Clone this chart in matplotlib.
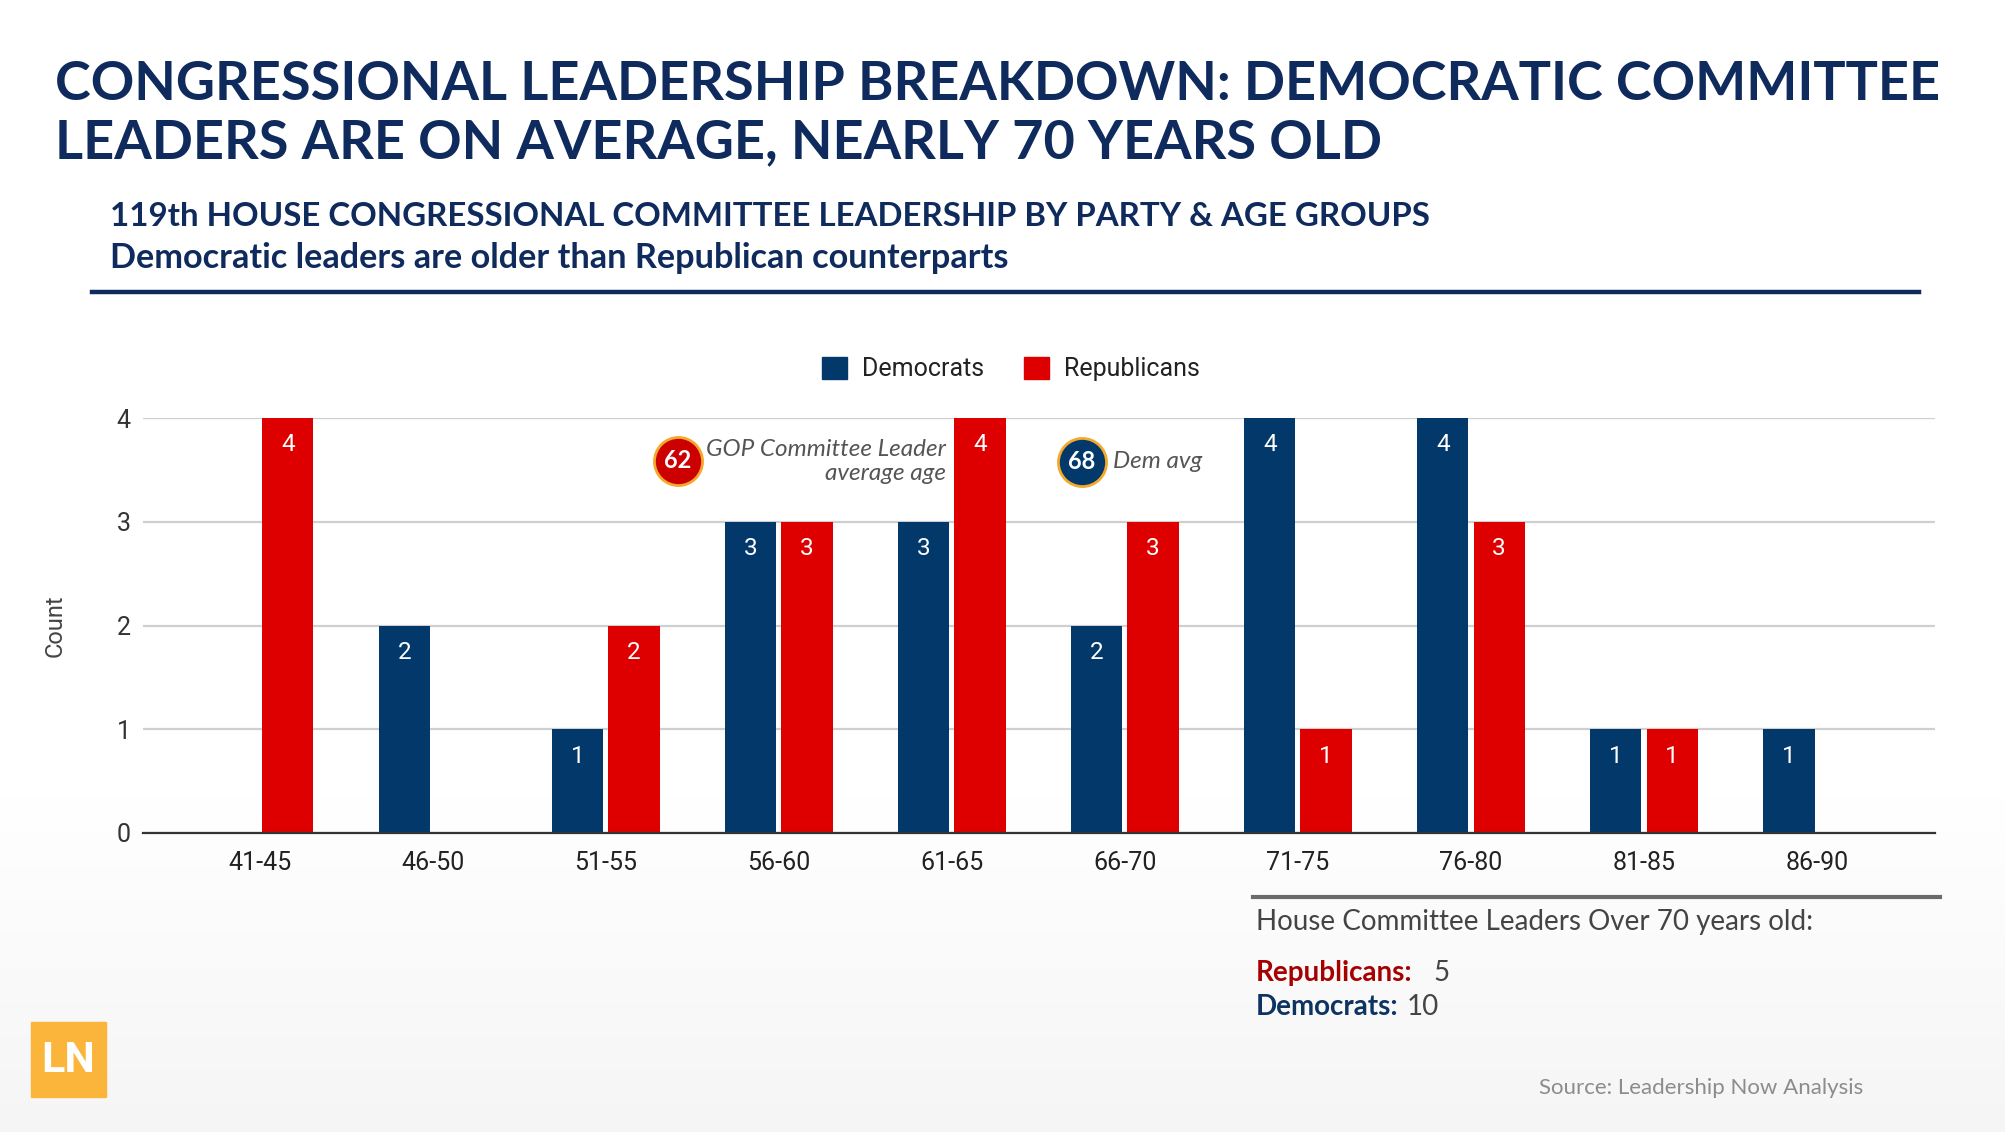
import numpy as np
import matplotlib
matplotlib.use("Agg")
import matplotlib.pyplot as plt
from matplotlib.patches import Patch, Rectangle
from matplotlib.lines import Line2D

# ---- data ----
age_groups = ["41-45", "46-50", "51-55", "56-60", "61-65",
              "66-70", "71-75", "76-80", "81-85", "86-90"]
democrats = [0, 2, 1, 3, 3, 2, 4, 4, 1, 1]
republicans = [4, 0, 2, 3, 4, 3, 1, 3, 1, 0]
gop_avg_age = 62
dem_avg_age = 68
over70_rep = 5
over70_dem = 10

NAVY = "#0f2a5c"
DEM = "#02386a"
REP = "#de0000"
REP_DARK = "#a60000"
GOLD = "#f5a92c"

W, H = 2006, 1132
fig = plt.figure(figsize=(W / 100, H / 100), dpi=100)
fig.patch.set_facecolor("white")


def fx(px):
    return px / W


def fy(py):
    return 1 - py / H


# soft background gradient (white on top, light grey at the very bottom)
bg = fig.add_axes([0, 0, 1, 1], zorder=-10)
grad = np.ones((200, 1))
grad[140:, 0] = np.linspace(1.0, 0.962, 60)
bg.imshow(np.dstack([grad, grad, grad]), aspect="auto", extent=(0, 1, 0, 1))
bg.set_axis_off()

# ---- titles ----
renderer = fig.canvas.get_renderer()


def fit_text(t, width_px):
    w = t.get_window_extent(renderer).width
    t.set_fontsize(t.get_fontsize() * width_px / w)


t1 = fig.text(fx(55), fy(100), "CONGRESSIONAL LEADERSHIP BREAKDOWN: DEMOCRATIC COMMITTEE",
              family="Lato", weight="bold", color=NAVY, fontsize=40, va="baseline")
fit_text(t1, 1885)
t2 = fig.text(fx(55), fy(158), "LEADERS ARE ON AVERAGE, NEARLY 70 YEARS OLD",
              family="Lato", weight="bold", color=NAVY, fontsize=t1.get_fontsize(), va="baseline")

s1 = fig.text(fx(110), fy(217), "119th HOUSE CONGRESSIONAL COMMITTEE LEADERSHIP BY PARTY & AGE GROUPS",
              family="Lato", weight="bold", color=NAVY, fontsize=22, va="center")
fit_text(s1, 1319)
s2 = fig.text(fx(110), fy(258), "Democratic leaders are older than Republican counterparts",
              family="Lato", weight="bold", color=NAVY, fontsize=s1.get_fontsize(), va="center")
fit_text(s2, 899)

fig.add_artist(Line2D([fx(92), fx(1919)], [fy(292), fy(292)], color=NAVY, lw=3.2))

# ---- chart ----
ax = fig.add_axes([fx(143), fy(833), fx(1935) - fx(143), fy(418) - fy(833)])
x = np.arange(len(age_groups))
bw = 0.295
off = 0.162
ax.bar(x - off, democrats, bw, color=DEM, zorder=3)
ax.bar(x + off, republicans, bw, color=REP, zorder=3)

for xs, vals in [(x - off, democrats), (x + off, republicans)]:
    for xi, v in zip(xs, vals):
        if v > 0:
            ax.text(xi, v - 0.26, str(v), ha="center", va="center", color="white",
                    family="Roboto", fontsize=17.5, zorder=4)

ax.set_xlim(-0.676, 9.682)
ax.set_ylim(0, 4)
ax.set_yticks([0, 1, 2, 3, 4])
ax.set_xticks(x)
ax.set_xticklabels(age_groups)
ax.grid(axis="y", color="#cfcfcf", lw=1.6, zorder=0)
ax.set_axisbelow(True)
for side in ["top", "right", "left"]:
    ax.spines[side].set_visible(False)
ax.spines["bottom"].set_color("#333333")
ax.spines["bottom"].set_linewidth(1.6)
ax.spines["bottom"].set_zorder(5)
ax.tick_params(axis="x", length=0, pad=13, labelsize=18, labelcolor="#222222")
ax.tick_params(axis="y", length=0, pad=9, labelsize=18, labelcolor="#333333")
for lab in ax.get_xticklabels() + ax.get_yticklabels():
    lab.set_family("Roboto")
ax.set_facecolor("none")
ax.set_ylabel("Count", family="Roboto", fontsize=17, color="#444444")
ax.yaxis.set_label_coords(-0.0425, 0.5)

ax.legend(handles=[Patch(color=DEM, label="Democrats"), Patch(color=REP, label="Republicans")],
          loc="center", bbox_to_anchor=(fx(1011), fy(369)), bbox_transform=fig.transFigure,
          ncol=2, frameon=False, prop={"family": "Roboto", "size": 18}, labelcolor="#222222",
          handlelength=1.0, handleheight=1.0, columnspacing=1.6, handletextpad=0.6)

# average age callouts
ax.scatter([2.416], [3.59], s=1200, color="#cc0000", edgecolors=GOLD, linewidths=2,
           zorder=6, clip_on=False)
ax.text(2.416, 3.59, str(gop_avg_age), ha="center", va="center", color="white",
        family="Lato", weight="bold", fontsize=17, zorder=7)
ax.text(3.965, 3.58, "GOP Committee Leader\naverage age", ha="right", va="center",
        multialignment="right", family="Lato", style="italic", color="#555555",
        fontsize=17.5, linespacing=1.15, zorder=7)
ax.scatter([4.75], [3.576], s=1200, color=DEM, edgecolors=GOLD, linewidths=2,
           zorder=6, clip_on=False)
ax.text(4.75, 3.576, str(dem_avg_age), ha="center", va="center", color="white",
        family="Lato", weight="bold", fontsize=17, zorder=7)
ax.text(4.93, 3.576, "Dem avg", ha="left", va="center", family="Lato", style="italic",
        color="#555555", fontsize=17.5, zorder=7)

# ---- over 70 box ----
fig.add_artist(Line2D([fx(1253), fx(1940)], [fy(897), fy(897)], color="#6b6b6b", lw=3))
fig.text(fx(1256), fy(922), "House Committee Leaders Over 70 years old:", family="Lato",
         color="#444444", fontsize=20, va="center")
fig.text(fx(1256), fy(973), "Republicans:", family="Lato", weight="bold",
         color=REP_DARK, fontsize=20, va="center")
fig.text(fx(1256), fy(1007), "Democrats:", family="Lato", weight="bold",
         color="#0d3461", fontsize=20, va="center")
fig.text(fx(1433), fy(973), str(over70_rep), family="Lato", color="#444444",
         fontsize=20, va="center")
fig.text(fx(1407), fy(1007), str(over70_dem), family="Lato", color="#444444",
         fontsize=20, va="center")

fig.text(fx(1539), fy(1088), "Source: Leadership Now Analysis", family="Lato",
         color="#8c8c8c", fontsize=16, va="center")

# ---- logo ----
fig.add_artist(Rectangle((fx(31), fy(1097)), fx(106) - fx(31), fy(1022) - fy(1097),
                         transform=fig.transFigure, color="#fbb53b"))
fig.text(fx(68.5), fy(1060), "LN", family="Roboto", weight="bold", color="white",
         fontsize=31, ha="center", va="center", stretch="condensed")

fig.savefig("out.png", dpi=100)
